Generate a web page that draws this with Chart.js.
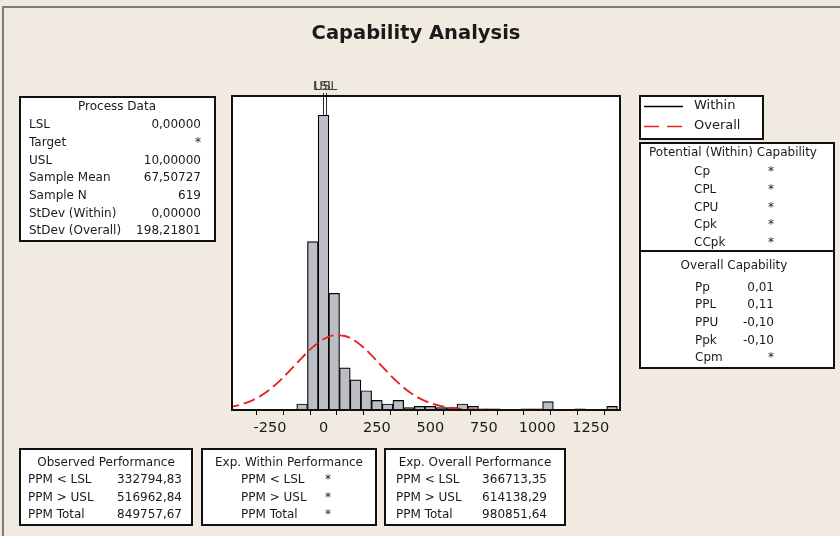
<!DOCTYPE html>
<html>
<head>
<meta charset="utf-8">
<script src="https://cdn.jsdelivr.net/npm/chart.js@4.4.1/dist/chart.umd.min.js"></script>
<style>
  html, body { margin: 0; padding: 0; background: #F1EAE0; }
  canvas { display: block; }
</style>
</head>
<body>
<canvas id="cap" width="840" height="536"></canvas>
<script>
// Histogram: bin midpoints (width 50) and observation counts
const binMids = [-100, -50, 0, 50, 100, 150, 200, 250, 300, 350, 400, 450, 500, 550, 600,
                 650, 700, 750, 800, 850, 900, 950, 1000, 1050, 1100, 1150, 1200, 1250, 1300, 1350];
const binCounts = [5, 140, 245, 97, 35, 25, 16, 8, 5, 8, 2, 3, 3, 2, 2,
                   5, 3, 1, 1, 0, 0, 1, 1, 7, 0, 0, 1, 0, 0, 3];

// Overall normal fit (mean 67.5, StDev 198.2), scaled to counts
const curveX = [-450, -400, -350, -300, -250, -200, -150, -100, -50, 0, 50, 100, 150, 200,
                250, 300, 350, 400, 450, 500, 550, 600, 650, 700, 750, 800];
const curveY = [2.06, 3.86, 6.77, 11.16, 17.27, 25.05, 34.12, 43.6, 52.25, 58.8, 62.06, 61.47,
                57.13, 49.83, 40.77, 31.3, 22.55, 15.25, 9.68, 5.76, 3.22, 1.69, 0.83, 0.38, 0.17, 0.07];

// Specification limits
const specNames = ['LSL', 'USL'];
const specValues = [0, 10];

// Axis labels
const xTickValues = [-250, 0, 250, 500, 750, 1000, 1250];
const xTickLabels = ['-250', '0', '250', '500', '750', '1000', '1250'];

// Legend
const legendNames = ['Within', 'Overall'];

// Tables
const processTitle = 'Process Data';
const processLabels = ['LSL', 'Target', 'USL', 'Sample Mean', 'Sample N', 'StDev (Within)', 'StDev (Overall)'];
const processValues = ['0,00000', '*', '10,00000', '67,50727', '619', '0,00000', '198,21801'];

const potentialTitle = 'Potential (Within) Capability';
const potentialLabels = ['Cp', 'CPL', 'CPU', 'Cpk', 'CCpk'];
const potentialValues = ['*', '*', '*', '*', '*'];

const overallCapTitle = 'Overall Capability';
const overallCapLabels = ['Pp', 'PPL', 'PPU', 'Ppk', 'Cpm'];
const overallCapValues = ['0,01', '0,11', '-0,10', '-0,10', '*'];

const ppmLabels = ['PPM < LSL', 'PPM > USL', 'PPM Total'];
const observedTitle = 'Observed Performance';
const observedPPM = ['332794,83', '516962,84', '849757,67'];
const withinTitle = 'Exp. Within Performance';
const withinPPM = ['*', '*', '*'];
const expOverallTitle = 'Exp. Overall Performance';
const expOverallPPM = ['366713,35', '614138,29', '980851,64'];

const chartTitle = 'Capability Analysis';

const FONT = '"DejaVu Sans", Verdana, sans-serif';
const TEXT = '#1a1a1a';
const RED = '#E42320';

function text(ctx, s, x, y, align, font) {
  ctx.font = font || ('12px ' + FONT);
  ctx.textAlign = align || 'left';
  ctx.textBaseline = 'middle';
  ctx.fillStyle = TEXT;
  ctx.fillText(s, x, y);
}

function panel(ctx, x0, y0, x1, y1) {
  ctx.fillStyle = '#ffffff';
  ctx.fillRect(x0, y0, x1 - x0, y1 - y0);
  ctx.strokeStyle = '#111111';
  ctx.lineWidth = 2;
  ctx.setLineDash([]);
  ctx.strokeRect(x0, y0, x1 - x0, y1 - y0);
}

const ROW = 17.7;

const capabilityPlugin = {
  id: 'capability',
  beforeDraw(chart) {
    const ctx = chart.ctx;
    const a = chart.chartArea;
    ctx.save();
    ctx.fillStyle = '#F1EAE0';
    ctx.fillRect(0, 0, chart.width, chart.height);
    // outer window border
    ctx.strokeStyle = '#7c7c7c';
    ctx.lineWidth = 2;
    ctx.beginPath();
    ctx.moveTo(3, chart.height);
    ctx.lineTo(3, 7);
    ctx.lineTo(chart.width, 7);
    ctx.stroke();
    // plot background
    ctx.fillStyle = '#ffffff';
    ctx.fillRect(a.left, a.top, a.right - a.left, a.bottom - a.top);
    ctx.restore();
  },
  beforeDatasetsDraw(chart) {
    const ctx = chart.ctx;
    const xs = chart.scales.x;
    const a = chart.chartArea;
    ctx.save();
    ctx.strokeStyle = '#2a2a2a';
    ctx.lineWidth = 1;
    specValues.forEach(v => {
      const px = Math.round(xs.getPixelForValue(v)) + 0.5;
      ctx.beginPath();
      ctx.moveTo(px, 93);
      ctx.lineTo(px, a.bottom);
      ctx.stroke();
    });
    ctx.restore();
  },
  afterDatasetsDraw(chart) {
    const ctx = chart.ctx;
    const a = chart.chartArea;
    ctx.save();
    ctx.strokeStyle = '#111111';
    ctx.lineWidth = 2;
    ctx.strokeRect(a.left, a.top, a.right - a.left, a.bottom - a.top);
    ctx.restore();
  },
  afterDraw(chart) {
    const ctx = chart.ctx;
    const xs = chart.scales.x;
    ctx.save();

    // title
    text(ctx, chartTitle, 416, 34, 'center', 'bold 19.5px ' + FONT);

    // specification labels
    specNames.forEach((n, i) => {
      ctx.font = '12px ' + FONT;
      ctx.textAlign = 'center';
      ctx.textBaseline = 'middle';
      ctx.fillStyle = '#3a3a3a';
      ctx.fillText(n, xs.getPixelForValue(specValues[i]), 87);
    });

    // process data
    panel(ctx, 20, 97, 215, 241);
    text(ctx, processTitle, 117, 107, 'center');
    processLabels.forEach((l, i) => {
      const y = 125 + i * ROW;
      text(ctx, l, 29, y, 'left');
      text(ctx, processValues[i], 201, y, 'right');
    });

    // legend
    panel(ctx, 640, 96, 763, 139);
    ctx.lineWidth = 1.6;
    ctx.strokeStyle = '#000000';
    ctx.setLineDash([]);
    ctx.beginPath(); ctx.moveTo(644, 106.5); ctx.lineTo(683, 106.5); ctx.stroke();
    ctx.strokeStyle = RED;
    ctx.setLineDash([15, 8]);
    ctx.beginPath(); ctx.moveTo(644, 126.5); ctx.lineTo(683, 126.5); ctx.stroke();
    ctx.setLineDash([]);
    text(ctx, legendNames[0], 694, 106, 'left', '13px ' + FONT);
    text(ctx, legendNames[1], 694, 126, 'left', '13px ' + FONT);

    // capability indices
    panel(ctx, 640, 143, 834, 368);
    ctx.strokeStyle = '#111111';
    ctx.lineWidth = 2;
    ctx.beginPath(); ctx.moveTo(640, 251); ctx.lineTo(834, 251); ctx.stroke();
    text(ctx, potentialTitle, 733, 153, 'center');
    potentialLabels.forEach((l, i) => {
      const y = 172 + i * ROW;
      text(ctx, l, 694, y, 'left');
      text(ctx, potentialValues[i], 771, y, 'center');
    });
    text(ctx, overallCapTitle, 734, 265.5, 'center');
    overallCapLabels.forEach((l, i) => {
      const y = 287.5 + i * ROW;
      text(ctx, l, 695, y, 'left');
      text(ctx, overallCapValues[i], 774, y, 'right');
    });

    // performance tables
    const rows = (labels, values, lx, vx, valign) => {
      labels.forEach((l, i) => {
        const y = 480 + i * 17.6;
        text(ctx, l, lx, y, 'left');
        text(ctx, values[i], vx, y, valign);
      });
    };
    panel(ctx, 20, 449, 192, 525);
    text(ctx, observedTitle, 106, 462.5, 'center');
    rows(ppmLabels, observedPPM, 28, 182, 'right');

    panel(ctx, 202, 449, 376, 525);
    text(ctx, withinTitle, 289, 462.5, 'center');
    rows(ppmLabels, withinPPM, 241, 328, 'center');

    panel(ctx, 385, 449, 565, 525);
    text(ctx, expOverallTitle, 475, 462.5, 'center');
    rows(ppmLabels, expOverallPPM, 396, 547, 'right');

    ctx.restore();
  }
};

const tickLabelMap = {};
xTickValues.forEach((v, i) => { tickLabelMap[v] = xTickLabels[i]; });

new Chart(document.getElementById('cap'), {
  type: 'bar',
  data: {
    datasets: [
      {
        type: 'line',
        label: legendNames[1],
        data: curveX.map((x, i) => ({ x: x, y: curveY[i] })),
        borderColor: RED,
        borderWidth: 1.9,
        borderDash: [12, 5],
        pointRadius: 0,
        fill: false,
        cubicInterpolationMode: 'monotone',
        order: 0
      },
      {
        type: 'bar',
        label: 'Counts',
        data: binMids.map((x, i) => ({ x: x, y: binCounts[i] })),
        backgroundColor: '#BDBDC6',
        borderColor: '#000000',
        borderWidth: 1.2,
        barPercentage: 1,
        categoryPercentage: 1,
        order: 1
      }
    ]
  },
  options: {
    responsive: false,
    animation: false,
    devicePixelRatio: 1,
    layout: { padding: { left: 232, right: 220, top: 96, bottom: 96 } },
    plugins: {
      legend: { display: false },
      title: { display: false },
      tooltip: { enabled: false }
    },
    scales: {
      x: {
        type: 'linear',
        min: -428,
        max: 1387,
        offset: false,
        afterFit(s) { s.height = 30; },
        border: { display: false },
        grid: {
          drawOnChartArea: false,
          drawTicks: true,
          tickLength: 5,
          color: '#000000',
          lineWidth: 1
        },
        ticks: {
          stepSize: 125,
          includeBounds: false,
          autoSkip: false,
          maxRotation: 0,
          padding: 5,
          color: '#1a1a1a',
          font: { family: '"DejaVu Sans", Verdana, sans-serif', size: 14.5 },
          callback: (v) => (v in tickLabelMap ? tickLabelMap[v] : '')
        }
      },
      y: {
        display: false,
        min: 0,
        max: 261
      }
    }
  },
  plugins: [capabilityPlugin]
});
</script>
</body>
</html>
